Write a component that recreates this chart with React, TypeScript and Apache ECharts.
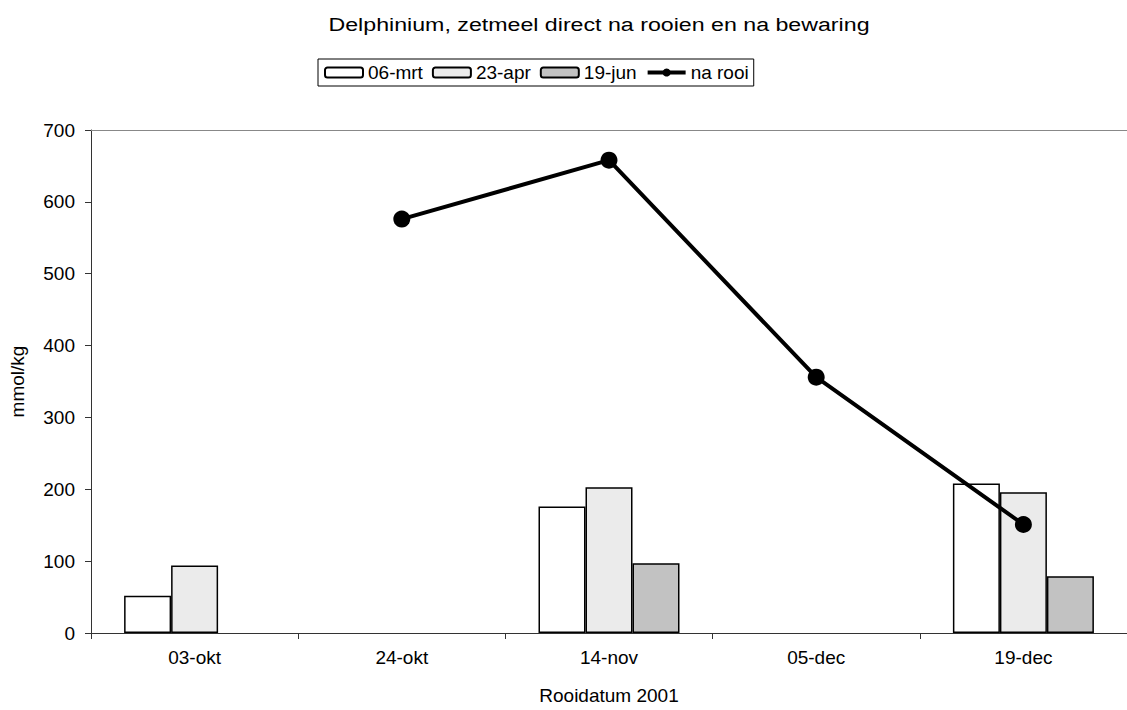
import React, { useEffect, useRef } from "react";
import * as echarts from "echarts";

const categories = ["03-okt", "24-okt", "14-nov", "05-dec", "19-dec"];
const mrt06 = [52, null, 176, null, 208];
const apr23 = [94, null, 203, null, 196];
const jun19 = [null, null, 97, null, 79];
const naRooi = [null, 576, 658, 356, 151];

const TITLE = "Delphinium, zetmeel direct na rooien en na bewaring";
const FONT = "Liberation Sans, Arial, sans-serif";
const LABEL_SIZE = 19;

export default function App() {
  const ref = useRef<HTMLDivElement>(null);

  useEffect(() => {
    if (!ref.current) return;
    const chart = echarts.init(ref.current, undefined, { renderer: "svg" });
    const barBorder = { borderColor: "#000", borderWidth: 1.5 };
    chart.setOption({
      animation: false,
      backgroundColor: "#fff",
      textStyle: { fontFamily: FONT },
      // Title drawn as a slightly widened text
      graphic: [
        {
          type: "text",
          x: 599,
          y: 24,
          scaleX: 1.22,
          style: {
            text: TITLE,
            font: `19px ${FONT}`,
            fill: "#000",
            textAlign: "center",
            textVerticalAlign: "middle",
          },
        },
      ],
      legend: {
        left: 318,
        top: 59,
        itemWidth: 38,
        itemHeight: 10,
        itemGap: 9,
        padding: [4, 5, 4, 6],
        borderColor: "#000",
        borderWidth: 1,
        textStyle: { fontFamily: FONT, fontSize: LABEL_SIZE, color: "#000" },
        data: [
          { name: "06-mrt" },
          { name: "23-apr" },
          { name: "19-jun" },
          { name: "na rooi", lineStyle: { width: 4, color: "#000" } },
        ],
      },
      grid: { left: 85, right: 0, top: 130, bottom: 73, containLabel: false },
      xAxis: {
        type: "category",
        data: categories,
        name: "Rooidatum 2001",
        nameLocation: "middle",
        nameGap: 53,
        nameTextStyle: { fontFamily: FONT, fontSize: LABEL_SIZE, color: "#000" },
        axisLine: { lineStyle: { color: "#333", width: 1 } },
        axisTick: { show: true, inside: false, length: 6, lineStyle: { color: "#333" } },
        axisLabel: { fontFamily: FONT, fontSize: LABEL_SIZE, color: "#000", margin: 15 },
        splitLine: { show: false },
      },
      yAxis: {
        type: "value",
        min: 0,
        max: 700,
        interval: 100,
        name: "mmol/kg",
        nameLocation: "middle",
        nameGap: 64,
        nameRotate: 90,
        nameTextStyle: { fontFamily: FONT, fontSize: LABEL_SIZE, color: "#000" },
        axisLine: { show: true, lineStyle: { color: "#333", width: 1 } },
        axisTick: { show: true, inside: false, length: 6, lineStyle: { color: "#333" } },
        axisLabel: { fontFamily: FONT, fontSize: LABEL_SIZE, color: "#000", margin: 16 },
        splitLine: { show: false },
      },
      series: [
        {
          name: "06-mrt",
          type: "bar",
          data: mrt06,
          barWidth: 47,
          barGap: "0%",
          itemStyle: { color: "#ffffff", ...barBorder },
        },
        {
          name: "23-apr",
          type: "bar",
          data: apr23,
          barWidth: 47,
          barGap: "0%",
          itemStyle: { color: "#ebebeb", ...barBorder },
        },
        {
          name: "19-jun",
          type: "bar",
          data: jun19,
          barWidth: 47,
          barGap: "0%",
          itemStyle: { color: "#c2c2c2", ...barBorder },
        },
        {
          name: "na rooi",
          type: "line",
          data: naRooi,
          symbol: "circle",
          symbolSize: 17,
          lineStyle: { color: "#000", width: 4 },
          itemStyle: { color: "#000" },
          z: 5,
          markLine: {
            silent: true,
            symbol: "none",
            label: { show: false },
            lineStyle: { color: "#888", width: 1, type: "solid" },
            data: [{ yAxis: 700 }],
          },
        },
      ],
    });
    return () => chart.dispose();
  }, []);

  return (
    <div
      ref={ref}
      style={{ position: "fixed", left: 0, top: 0, width: 1127, height: 710, background: "#fff" }}
    />
  );
}
